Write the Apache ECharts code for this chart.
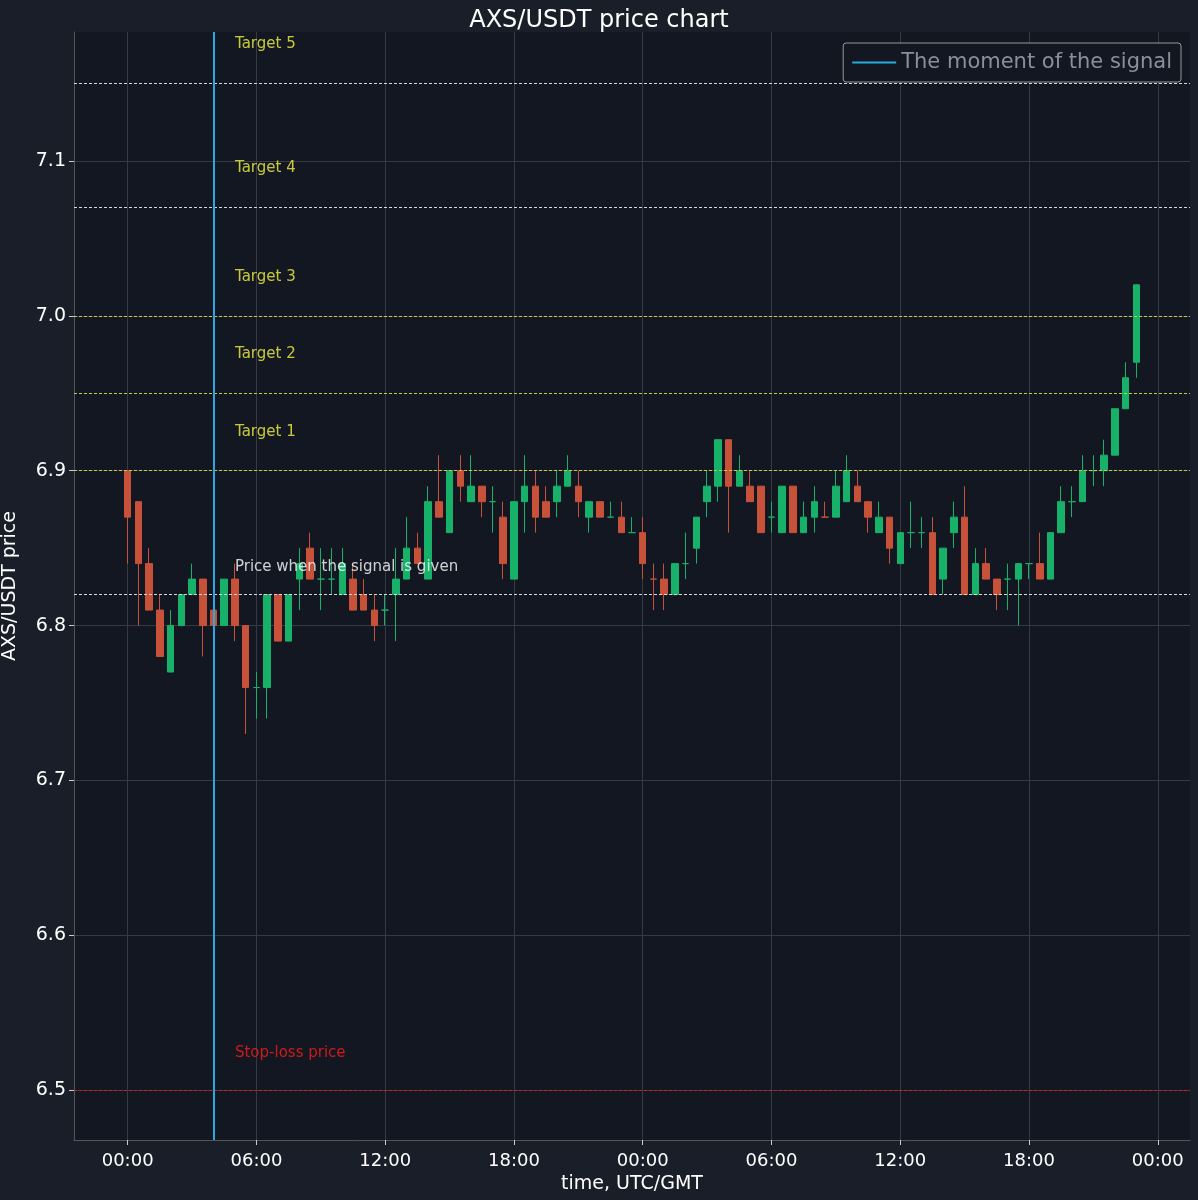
<!DOCTYPE html>
<html>
<head>
<meta charset="utf-8">
<script src="https://cdn.jsdelivr.net/npm/echarts@6/dist/echarts.min.js"></script>
<style>
html,body{margin:0;padding:0;background:#1a1e29;}
#main{width:1198px;height:1200px;}
</style>
</head>
<body>
<div id="main"></div>
<script>
// candles every 30 min from 00:00, [open, close, low, high]
let candles = [
  [6.90,6.87,6.84,6.90],[6.88,6.84,6.80,6.88],[6.84,6.81,6.81,6.85],[6.81,6.78,6.78,6.82],
  [6.77,6.80,6.77,6.81],[6.80,6.82,6.80,6.82],[6.82,6.83,6.82,6.84],[6.83,6.80,6.78,6.83],
  [6.81,6.80,6.80,6.83],[6.80,6.83,6.80,6.83],[6.83,6.80,6.79,6.84],[6.80,6.76,6.73,6.80],
  [6.76,6.76,6.74,6.77],[6.76,6.82,6.74,6.82],[6.82,6.79,6.79,6.82],[6.79,6.82,6.79,6.82],
  [6.83,6.84,6.81,6.85],[6.85,6.83,6.83,6.86],[6.83,6.83,6.81,6.85],[6.83,6.83,6.82,6.85],
  [6.82,6.84,6.82,6.85],[6.83,6.81,6.81,6.84],[6.82,6.81,6.81,6.83],[6.81,6.80,6.79,6.82],
  [6.81,6.81,6.80,6.82],[6.82,6.83,6.79,6.85],[6.83,6.85,6.83,6.87],[6.85,6.84,6.84,6.86],
  [6.83,6.88,6.83,6.89],[6.88,6.87,6.87,6.91],[6.86,6.90,6.86,6.90],[6.90,6.89,6.88,6.91],
  [6.88,6.89,6.88,6.91],[6.89,6.88,6.87,6.89],[6.88,6.88,6.86,6.89],[6.87,6.84,6.83,6.88],
  [6.83,6.88,6.83,6.88],[6.88,6.89,6.86,6.91],[6.89,6.87,6.86,6.90],[6.88,6.87,6.87,6.89],
  [6.88,6.89,6.87,6.90],[6.89,6.90,6.89,6.91],[6.89,6.88,6.87,6.90],[6.87,6.88,6.86,6.88],
  [6.88,6.87,6.87,6.88],[6.87,6.87,6.87,6.88],[6.87,6.86,6.86,6.88],[6.86,6.86,6.86,6.87],
  [6.86,6.84,6.83,6.87],[6.83,6.83,6.81,6.84],[6.83,6.82,6.81,6.84],[6.82,6.84,6.82,6.84],
  [6.84,6.84,6.83,6.86],[6.85,6.87,6.84,6.87],[6.88,6.89,6.87,6.90],[6.89,6.92,6.88,6.92],
  [6.92,6.89,6.86,6.92],[6.89,6.90,6.89,6.91],[6.89,6.88,6.88,6.90],[6.89,6.86,6.86,6.89],
  [6.87,6.87,6.86,6.88],[6.86,6.89,6.86,6.89],[6.89,6.86,6.86,6.89],[6.86,6.87,6.86,6.88],
  [6.87,6.88,6.86,6.89],[6.87,6.87,6.87,6.88],[6.87,6.89,6.87,6.90],[6.88,6.90,6.88,6.91],
  [6.89,6.88,6.88,6.90],[6.88,6.87,6.86,6.88],[6.86,6.87,6.86,6.88],[6.87,6.85,6.84,6.87],
  [6.84,6.86,6.84,6.86],[6.86,6.86,6.85,6.88],[6.86,6.86,6.85,6.87],[6.86,6.82,6.82,6.87],
  [6.83,6.85,6.82,6.85],[6.86,6.87,6.85,6.88],[6.87,6.82,6.82,6.89],[6.82,6.84,6.82,6.85],
  [6.84,6.83,6.83,6.85],[6.83,6.82,6.81,6.83],[6.83,6.83,6.81,6.84],[6.83,6.84,6.80,6.84],
  [6.84,6.84,6.83,6.84],[6.84,6.83,6.83,6.86],[6.83,6.86,6.83,6.86],[6.86,6.88,6.86,6.89],
  [6.88,6.88,6.87,6.89],[6.88,6.90,6.88,6.91],[6.90,6.90,6.89,6.91],[6.90,6.91,6.89,6.92],
  [6.91,6.94,6.91,6.94],[6.94,6.96,6.94,6.97],[6.97,7.02,6.96,7.02]
];
let padBefore = 5;
let totalSlots = 105;
let signalIndex = 8;
let yTicks = [6.5, 6.6, 6.7, 6.8, 6.9, 7.0, 7.1];
let targets = [6.90, 6.95, 7.00, 7.07, 7.15];
let targetNames = ['Target 1', 'Target 2', 'Target 3', 'Target 4', 'Target 5'];
let signalPrice = 6.82;
let stopLoss = 6.50;

let cats = [];
for (let i = 0; i < totalSlots; i++) {
    let m = (i - padBefore) * 30;
    let h = ((Math.floor(m / 60) % 24) + 24) % 24;
    let mm = ((m % 60) + 60) % 60;
    cats.push((h < 10 ? '0' : '') + h + ':' + (mm < 10 ? '0' : '') + mm);
}
let kdata = cats.map(function (c, i) {
    let k = i - padBefore;
    return (k >= 0 && k < candles.length) ? candles[k] : '-';
});
let isTick = function (i) { return (i - padBefore) % 12 === 0; };

let hline = function (y, color) {
    return {yAxis: y, lineStyle: {color: color, type: [3, 2], width: 1}};
};
let lineData = [
    hline(targets[0], '#c8c84a'), hline(targets[1], '#c8c84a'), hline(targets[2], '#c8c84a'),
    hline(targets[3], '#d8d8d8'), hline(targets[4], '#d8d8d8'),
    hline(signalPrice, '#d8d8d8'), hline(stopLoss, '#cc2222')
];
let labelX = padBefore + 10;
let labelData = targetNames.map(function (n, i) {
    return {value: [labelX, targets[i]], name: n, label: {color: '#f5f542', offset: [-5, -39]}};
});
labelData.push({value: [labelX, signalPrice], name: 'Price when the signal is given', label: {color: '#ffffff', offset: [-5, -27]}});
labelData.push({value: [labelX, stopLoss], name: 'Stop-loss price', label: {color: '#ff1a1a', offset: [-5, -37]}});

let myChart = echarts.init(document.getElementById('main'));
let option = {
    backgroundColor: '#1a1e29',
    animation: false,
    title: {
        text: 'AXS/USDT price chart',
        left: 'center',
        top: 4,
        textStyle: {color: '#ffffff', fontSize: 24, fontWeight: 'normal', fontFamily: 'DejaVu Sans'}
    },
    legend: {
        right: 17,
        top: 43,
        itemWidth: 44,
        itemHeight: 2,
        padding: [9, 9],
        borderColor: '#999',
        borderWidth: 1,
        borderRadius: 3,
        backgroundColor: '#131722',
        textStyle: {color: '#8a8f99', fontSize: 21, fontFamily: 'DejaVu Sans'},
        data: [{name: 'The moment of the signal', icon: 'rect', itemStyle: {color: '#29a9e0'}}]
    },
    grid: {left: 74, right: 8, top: 32, bottom: 60, outerBoundsMode: 'none', backgroundColor: '#131722', show: true, borderWidth: 0},
    xAxis: {
        type: 'category',
        data: cats,
        boundaryGap: false,
        name: 'time, UTC/GMT',
        nameLocation: 'middle',
        nameGap: 34,
        nameTextStyle: {color: '#ffffff', fontSize: 19, fontFamily: 'DejaVu Sans'},
        axisLine: {lineStyle: {color: '#555'}},
        axisTick: {interval: function (i) { return isTick(i); }, lineStyle: {color: '#ccc'}},
        axisLabel: {interval: function (i) { return isTick(i); }, color: '#ffffff', fontSize: 18, margin: 12, fontFamily: 'DejaVu Sans'},
        splitLine: {show: true, interval: function (i) { return isTick(i); }, lineStyle: {color: '#363a45'}}
    },
    yAxis: {
        type: 'value',
        min: 6.4679,
        max: 7.1832,
        name: 'AXS/USDT price',
        nameLocation: 'middle',
        nameGap: 54,
        nameTextStyle: {color: '#ffffff', fontSize: 19, fontFamily: 'DejaVu Sans'},
        axisLine: {show: true, lineStyle: {color: '#555'}},
        axisTick: {show: true, customValues: yTicks, lineStyle: {color: '#ccc'}},
        axisLabel: {
            color: '#ffffff', fontSize: 19, fontFamily: 'DejaVu Sans',
            customValues: yTicks,
            formatter: function (v) { return v.toFixed(1); }
        },
        splitLine: {lineStyle: {color: '#363a45'}}
    },
    series: [
        {
            name: 'price',
            type: 'candlestick',
            data: kdata,
            barWidth: 7,
            itemStyle: {
                color: '#17b169', color0: '#c8513a',
                borderColor: '#17b169', borderColor0: '#c8513a', borderWidth: 1
            },
            markLine: {symbol: 'none', silent: true, label: {show: false}, data: lineData}
        },
        {
            name: 'The moment of the signal',
            type: 'line',
            data: [],
            itemStyle: {color: '#29a9e0'},
            markLine: {
                symbol: 'none', silent: true, label: {show: false},
                data: [{xAxis: padBefore + signalIndex, lineStyle: {color: '#29a9e0', type: 'solid', width: 2}}]
            }
        },
        {
            name: 'labels',
            type: 'scatter',
            symbolSize: 0,
            data: labelData,
            label: {
                show: true, position: 'right', fontSize: 15, fontFamily: 'DejaVu Sans',
                formatter: function (p) { return p.name; }
            }
        }
    ]
};
myChart.setOption(option);
</script>
</body>
</html>
